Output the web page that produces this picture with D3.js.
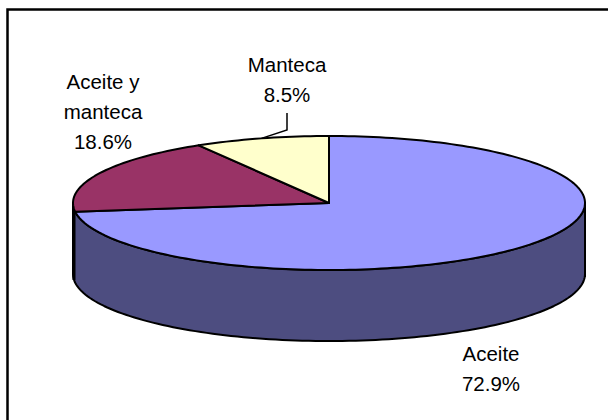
<!DOCTYPE html>
<html><head><meta charset="utf-8">
<script src="https://cdn.jsdelivr.net/npm/d3@7"></script>
<style>html,body{margin:0;padding:0;background:#fff;overflow:hidden}svg{display:block}
text{font-family:"Liberation Sans",Arial,sans-serif;font-size:20.5px;fill:#000}</style>
</head><body>
<script>
const categories = ["Aceite", "Aceite y manteca", "Manteca"];
const values = [72.9, 18.6, 8.5];
const colors = ["#9999ff", "#993366", "#ffffcc"];
const sideColor = "#4d4d80";
const labelLines = [["Aceite","72.9%"],["Aceite y","manteca","18.6%"],["Manteca","8.5%"]];
const labelAnchors = [[491,361],[103,89],[287,72]];

const W=608,H=420,cx=329,cy=203,rx=256,ry=67,depth=71;
const svg=d3.select("body").append("svg").attr("width",W).attr("height",H);
const line=d3.line().x(d=>d[0]).y(d=>d[1]);
svg.append("path").attr("d",line([[7.5,H],[7.5,9.5],[W,9.5]]))
  .attr("fill","none").attr("stroke","#000").attr("stroke-width",2.5);

const arcs=d3.pie().sort(null).value(d=>d)(values);
const k=d3.scaleLinear().domain([0,1]).range([0,rx]);
const kY=d3.scaleLinear().domain([0,1]).range([0,ry]);
const px=a=>cx+k(Math.sin(a)), py=a=>cy-kY(Math.cos(a));

// side wall
const start=Math.PI/2, end=Math.PI*1.5;
const n=120, ang=d3.range(n+1).map(i=>start+(end-start)*i/n);
const topEdge=ang.map(a=>[px(a),py(a)]);
const botEdge=ang.map(a=>[px(a),py(a)+depth]).reverse();
svg.append("path").attr("d",line(topEdge.concat(botEdge))+"Z")
  .attr("fill",sideColor).attr("stroke","#000").attr("stroke-width",2).attr("stroke-linejoin","round");
svg.append("path").attr("d",line([[px(end)+1,py(end)+8],[px(end)+1,py(end)+depth+6]]))
  .attr("fill","none").attr("stroke","#000").attr("stroke-width",3);
svg.append("path").attr("d",line([[px(start),py(start)],[px(start),py(start)+depth+3]]))
  .attr("fill","none").attr("stroke","#000").attr("stroke-width",2);

// top faces
arcs.forEach((d,i)=>{
  const m=Math.max(8,Math.ceil((d.endAngle-d.startAngle)*40));
  const pts=[[cx,cy]].concat(d3.range(m+1).map(j=>{
    const a=d.startAngle+(d.endAngle-d.startAngle)*j/m;return [px(a),py(a)];}));
  svg.append("path").attr("d",line(pts)+"Z").attr("fill",colors[i])
    .attr("stroke","#000").attr("stroke-width",2).attr("stroke-linejoin","round");
});

// leader for Manteca
const mid=(arcs[2].startAngle+arcs[2].endAngle)/2;
svg.append("path").attr("d",line([[px(mid),py(mid)],[287,130],[287,113]]))
  .attr("fill","none").attr("stroke","#000").attr("stroke-width",1.5);

labelLines.forEach((ls,i)=>{
  const t=svg.append("text").attr("text-anchor","middle");
  ls.forEach((s,j)=>t.append("tspan").attr("x",labelAnchors[i][0]).attr("y",labelAnchors[i][1]+j*30).text(s));
});
</script></body></html>
